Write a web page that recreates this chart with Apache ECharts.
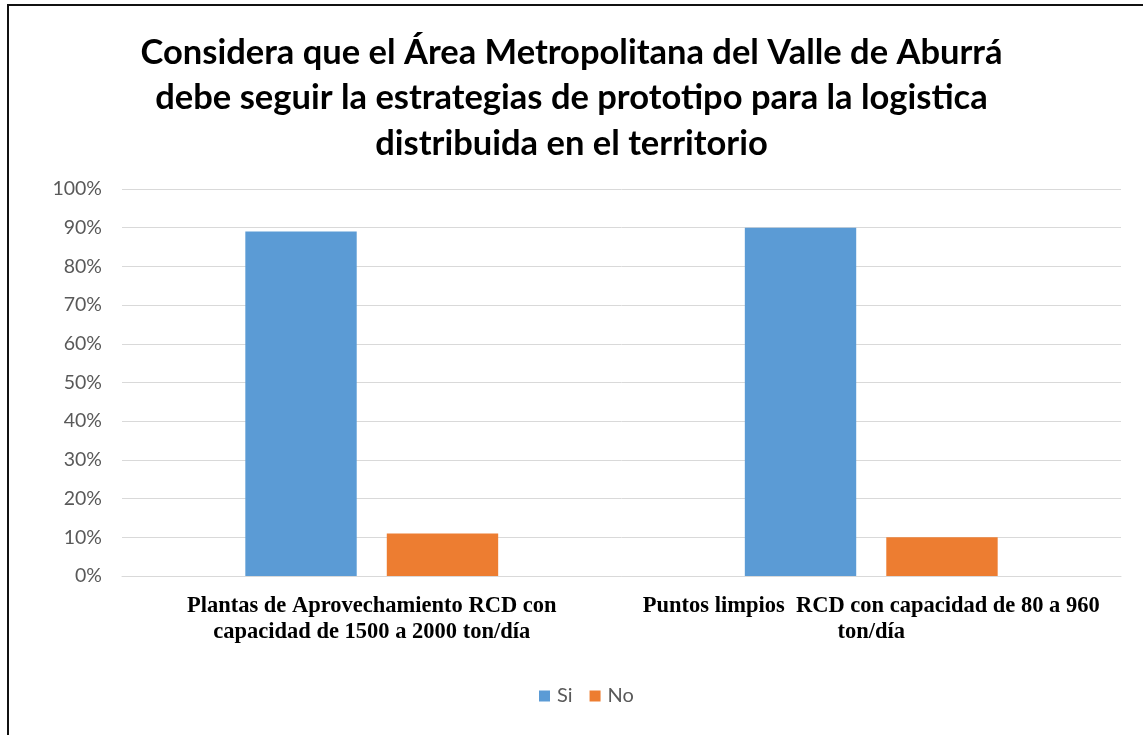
<!DOCTYPE html>
<html style="height: 100%">
<head>
<meta charset="utf-8">
</head>
<body style="height: 100%; margin: 0; background: #fff">
<div id="frame" style="position:absolute; left:7px; top:4px; right:0; bottom:0; border-top:2px solid #111; border-left:2px solid #111;"></div>
<div id="container" style="position:absolute; left:0; top:0; width:1143px; height:735px"></div>
<script src="https://cdn.jsdelivr.net/npm/echarts@6/dist/echarts.min.js"></script>
<script>
var categories = [
    'Plantas de Aprovechamiento RCD con\ncapacidad de 1500 a 2000 ton/día',
    'Puntos limpios  RCD con capacidad de 80 a 960\nton/día'
];
var siValues = [89, 90];
var noValues = [11, 10];

var chart = echarts.init(document.getElementById('container'));

var option = {
    animation: false,
    title: {
        text: 'Considera que el Área Metropolitana del Valle de Aburrá\ndebe seguir la estrategias de prototipo para la logistica\ndistribuida en el territorio',
        left: 'center',
        top: 25,
        textStyle: {
            fontFamily: 'Lato',
            fontWeight: 'bold',
            fontSize: 34.5,
            lineHeight: 45.5,
            color: '#000'
        }
    },
    legend: {
        bottom: 24,
        left: 534,
        itemWidth: 11,
        itemHeight: 11,
        itemGap: 17,
        icon: 'rect',
        textStyle: { fontFamily: 'Lato', fontSize: 20, color: '#595959', padding: [0, 0, 0, 2] },
        data: ['Si', 'No']
    },
    grid: { left: 122, right: 22, top: 189, bottom: 159 },
    xAxis: {
        type: 'category',
        data: categories,
        axisTick: { show: false },
        axisLine: { lineStyle: { color: '#d9d9d9' } },
        axisLabel: {
            margin: 17,
            fontFamily: 'Liberation Serif',
            fontWeight: 'bold',
            fontSize: 22.5,
            lineHeight: 26,
            color: '#000',
            interval: 0
        }
    },
    yAxis: {
        type: 'value',
        min: 0,
        max: 100,
        interval: 10,
        axisLabel: {
            formatter: '{value}%',
            fontFamily: 'Lato',
            fontSize: 19.5,
            color: '#595959',
            margin: 20
        },
        splitLine: { lineStyle: { color: '#d9d9d9' } }
    },
    series: [
        {
            name: 'Si', type: 'bar', data: siValues,
            barWidth: '22.3%', barGap: '27%',
            itemStyle: { color: '#5b9bd5' }
        },
        {
            name: 'No', type: 'bar', data: noValues,
            barWidth: '22.3%',
            itemStyle: { color: '#ed7d31' }
        }
    ]
};

chart.setOption(option);
</script>
</body>
</html>
